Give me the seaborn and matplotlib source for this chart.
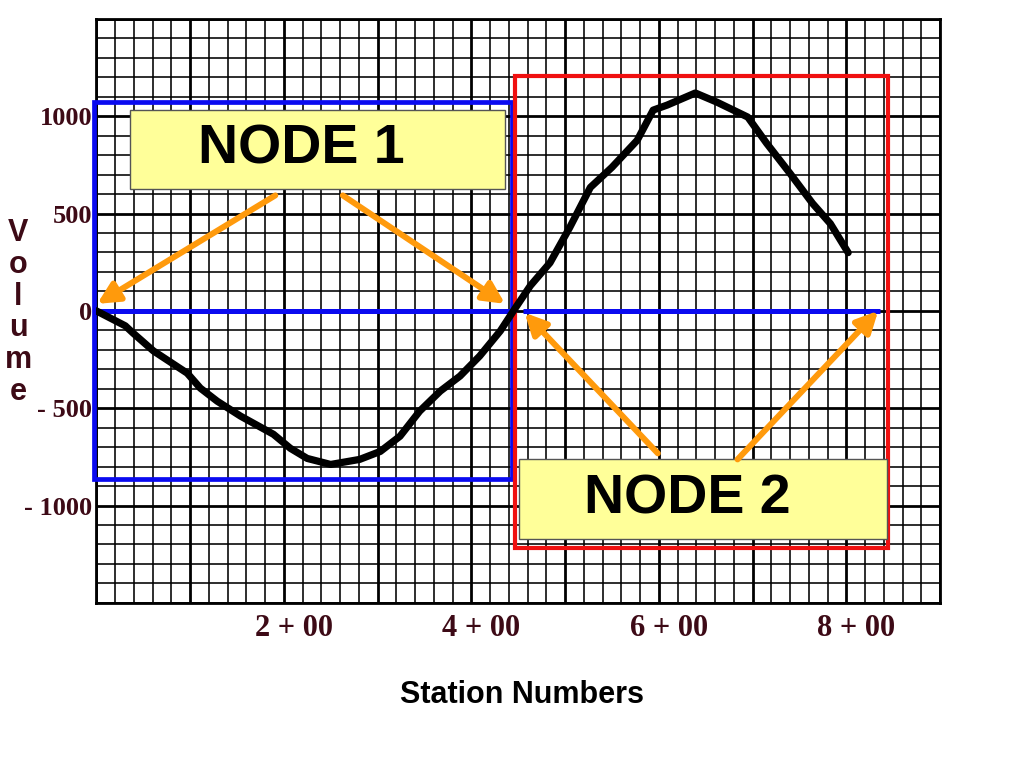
import numpy as np
import pandas as pd
import matplotlib
matplotlib.use('Agg')
import matplotlib.pyplot as plt
from matplotlib.patches import Rectangle
from matplotlib.transforms import ScaledTranslation
import seaborn as sns

# Datos (estacion, volumen)
station = [0, 31, 39, 61, 97, 111, 129, 154, 189, 207, 225, 250, 281, 303,
           324, 345, 367, 388, 409, 431, 445, 463, 484, 505, 527, 550, 577,
           594, 609, 639, 662, 695, 715, 740, 764, 783, 802]
volume = [0, -77, -113, -206, -320, -397, -464, -541, -634, -706, -758, -789,
          -763, -722, -644, -515, -412, -335, -232, -103, 0, 129, 247, 428,
          634, 737, 876, 1031, 1057, 1119, 1072, 995, 861, 706, 552, 448, 299]

x_tick_values = [0, 100, 200, 300, 400, 500, 600, 700, 800, 900]
x_tick_labels = ['', '', '2 + 00', '', '4 + 00', '', '6 + 00', '', '8 + 00', '']
y_tick_values = [-1500, -1000, -500, 0, 500, 1000, 1500]
y_tick_labels = ['', '- 1000', '- 500', '0', '500', '1000', '']

# Cajas de los nodos (x0, x1, y0, y1) en unidades de datos
node1_region = [-2, 443, -866, 1072]
node2_region = [447, 844, -1217, 1206]
node1_label_box = [36, 436, 624, 1031]
node2_label_box = [451, 843, -1170, -763]
node_labels = ['NODE 1', 'NODE 2']
node_text_pos = [(219, 830), (630, -969)]
zero_lines = [(0, 443), (455, 836)]

# Flechas: (desde, hasta)
arrows = [((191, 593), (1, 36)),
          ((263, 593), (436, 36)),
          ((599, -732), (457, -10)),
          ((684, -763), (834, 0))]

sns.set_style('white')
plt.rcParams['font.family'] = ['Liberation Sans', 'DejaVu Sans']

LABEL_COLOR = '#3d0a16'
BLUE = '#0a0af0'
RED = '#f01010'
ORANGE = '#ff9a0c'
YELLOW = '#ffff99'

fig = plt.figure(figsize=(10.24, 7.68), dpi=100)
ax = fig.add_axes([0.094, 0.215, 0.824, 0.7605])

df = pd.DataFrame({'station': station, 'volume': volume})

# Rejilla tipo papel milimetrado
ax.set_xlim(0, 900)
ax.set_ylim(-1500, 1500)
ax.set_xticks(x_tick_values)
ax.set_xticklabels(x_tick_labels)
ax.set_xticks(np.arange(0, 901, 20), minor=True)
ax.set_yticks(y_tick_values)
ax.set_yticklabels(y_tick_labels)
ax.set_yticks(np.arange(-1500, 1501, 100), minor=True)
ax.grid(which='major', color='black', lw=2.0, zorder=0)
ax.grid(which='minor', color='black', lw=1.15, zorder=0)
ax.set_axisbelow(True)
for sp in ax.spines.values():
    sp.set_color('black')
    sp.set_linewidth(2.0)
ax.tick_params(which='both', length=0)
ax.tick_params(axis='x', pad=8)
ax.tick_params(axis='y', pad=3)
for lab in ax.get_xticklabels():
    lab.set_fontfamily('Liberation Serif')
    lab.set_fontsize(22)
    lab.set_fontweight('bold')
    lab.set_color(LABEL_COLOR)
    lab.set_transform(lab.get_transform() + ScaledTranslation(0.1, 0, fig.dpi_scale_trans))
for lab in ax.get_yticklabels():
    lab.set_fontfamily('Liberation Serif')
    lab.set_fontsize(19)
    lab.set_fontweight('bold')
    lab.set_color(LABEL_COLOR)

# Regiones de los nodos
x0, x1, y0, y1 = node1_region
ax.add_patch(Rectangle((x0, y0), x1 - x0, y1 - y0, fill=False, ec=BLUE,
                       lw=3.4, zorder=3, clip_on=False))
x0, x1, y0, y1 = node2_region
ax.add_patch(Rectangle((x0, y0), x1 - x0, y1 - y0, fill=False, ec=RED,
                       lw=3.0, zorder=3, clip_on=False))
for a, b in zero_lines:
    ax.plot([a, b], [0, 0], color=BLUE, lw=3.6, zorder=3, solid_capstyle='butt')

# Curva de volumen
sns.lineplot(data=df, x='station', y='volume', color='black', lw=5.2,
             sort=False, ax=ax, zorder=4)
ax.set_xlabel('')
ax.set_ylabel('')

# Cajas amarillas con etiquetas
for box, label, pos in zip([node1_label_box, node2_label_box], node_labels, node_text_pos):
    x0, x1, y0, y1 = box
    ax.add_patch(Rectangle((x0, y0), x1 - x0, y1 - y0, fc=YELLOW, ec='#555555',
                           lw=1.0, zorder=5))
    ax.text(pos[0], pos[1], label, ha='center', va='center', fontsize=40,
            fontweight='bold', color='black', zorder=6)

for start, end in arrows:
    ax.annotate('', xy=end, xytext=start, zorder=7,
                arrowprops=dict(arrowstyle='-|>', color=ORANGE, lw=4.3,
                                mutation_scale=32, shrinkA=0, shrinkB=0))

fig.text(0.018, 0.593, 'V\no\nl\nu\nm\ne', ha='center', va='center',
         fontsize=22, fontweight='bold', color=LABEL_COLOR, linespacing=1.08)
fig.text(0.51, 0.095, 'Station Numbers', ha='center', va='center',
         fontsize=22, fontweight='bold', color='black')

fig.savefig('out.png', dpi=100)
